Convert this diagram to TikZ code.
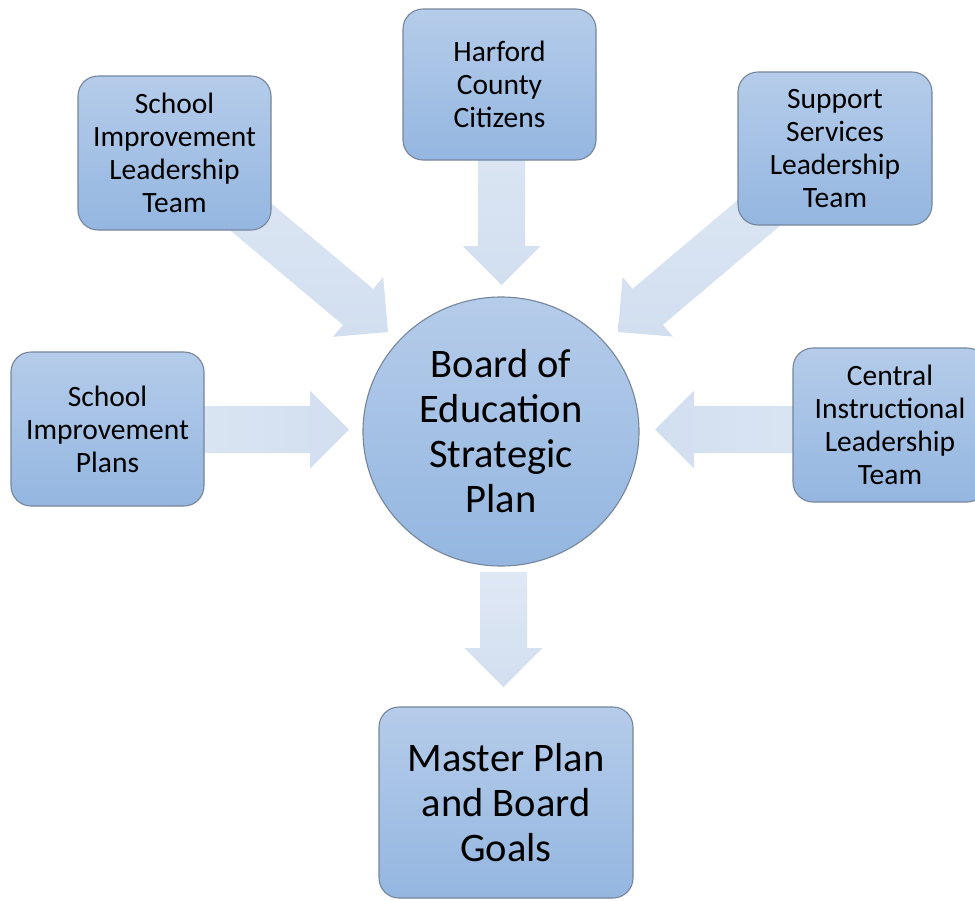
\documentclass[tikz,border=0pt]{standalone}
\usepackage{fontspec}
\setmainfont{Carlito}
\usetikzlibrary{calc,shapes.geometric}
\definecolor{boxtop}{HTML}{B5CCEA}
\definecolor{boxbot}{HTML}{94B6E0}
\definecolor{boxline}{HTML}{76869A}
\definecolor{arrtop}{HTML}{DFE8F5}
\definecolor{arrbot}{HTML}{D2DFF0}
\pgfdeclarelayer{background}
\pgfsetlayers{background,main}
\newcommand\blockarr[3]{%
  \coordinate (hb) at ($(#3)!39pt!(#2)$);
  \path[#1] ($(#2)!23.5pt!90:(#3)$) -- ($(hb)!23.5pt!90:(#3)$) -- ($(hb)!39pt!90:(#3)$) -- (#3)
    -- ($(hb)!39pt!-90:(#3)$) -- ($(hb)!23.5pt!-90:(#3)$) -- ($(#2)!23.5pt!-90:(#3)$) -- cycle;
}
\tikzset{
  box/.style={draw=boxline, line width=1.1pt, rounded corners=20pt, top color=boxtop, bottom color=boxbot,
    align=center, inner sep=0pt, font=\fontsize{29.5}{33}\selectfont},
  bigbox/.style={box, font=\fontsize{40.5}{45}\selectfont},
  circ/.style={ellipse, draw=boxline, line width=1.1pt, top color=boxtop, bottom color=boxbot,
    align=center, inner sep=0pt, font=\fontsize{40.5}{45}\selectfont},
  arrv/.style={top color=arrtop, bottom color=arrbot},
  arrh/.style={left color=arrtop, right color=arrbot},
  arrhr/.style={left color=arrbot, right color=arrtop},
}
\begin{document}
\begin{tikzpicture}[x=1pt,y=-1pt]
\clip (0,0) rectangle (975,900);
\node[box, minimum width=193pt, minimum height=154pt] (sil) at (174.5,153) {School\\Improvement\\Leadership\\Team};
\node[box, minimum width=193pt, minimum height=151pt] (harf) at (499.5,84.5) {Harford\\County\\Citizens};
\node[box, minimum width=194pt, minimum height=153pt] (supp) at (835,148.5) {Support\\Services\\Leadership\\Team};
\node[box, minimum width=193pt, minimum height=154pt] (sip) at (107.5,429) {School\\Improvement\\Plans};
\node[box, minimum width=194pt, minimum height=154pt] (cen) at (890,425) {Central\\Instructional\\Leadership\\Team};
\node[circ, minimum width=276pt, minimum height=269pt] (bsp) at (501,431.5) {Board of\\Education\\Strategic\\Plan};
\node[bigbox, minimum width=254pt, minimum height=191pt] (mp) at (506,802.5) {Master Plan\\and Board\\Goals};
\coordinate (t1) at (388,332);
\coordinate (t2) at (501.5,285);
\coordinate (t3) at (618,332);
\coordinate (t4) at (349,429.5);
\coordinate (t5) at (655,429.5);
\coordinate (t6) at (503.5,687);
\coordinate (b6) at (503.5,572);
\begin{pgfonlayer}{background}
\fill[white] (0,0) rectangle (975,900);
\blockarr{arrv}{sil.center}{t1}
\blockarr{arrv}{t2 |- harf.center}{t2}
\blockarr{arrv}{supp.center}{t3}
\blockarr{arrh}{t4 -| sip.center}{t4}
\blockarr{arrhr}{t5 -| cen.center}{t5}
\blockarr{arrv}{b6}{t6}
\end{pgfonlayer}
\end{tikzpicture}
\end{document}
